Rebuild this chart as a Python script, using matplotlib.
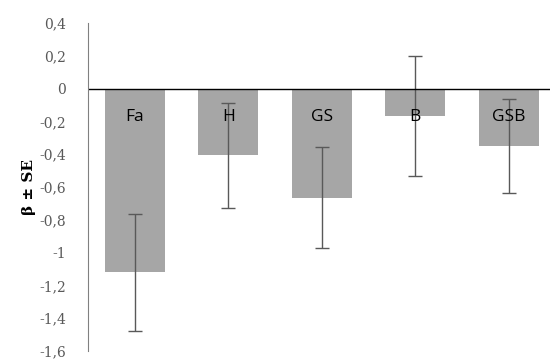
import matplotlib
matplotlib.use("Agg")
import matplotlib.pyplot as plt
import numpy as np

# data
groups = ["Fa", "H", "GS", "B", "GSB"]
beta = [-1.12, -0.405, -0.665, -0.165, -0.35]
se = [0.355, 0.32, 0.31, 0.365, 0.285]
yticks = [0.4, 0.2, 0, -0.2, -0.4, -0.6, -0.8, -1, -1.2, -1.4, -1.6]
ytick_labels = [("%g" % v).replace(".", ",") for v in yticks]

fig = plt.figure(figsize=(5.5, 3.63), dpi=100)
ax = fig.add_axes([88 / 550, 1 - 351 / 363, 1 - 88 / 550, (351 - 23) / 363])

x = np.arange(len(groups))
ax.bar(x, beta, width=0.64, color="#a6a6a6")
ax.errorbar(x, beta, yerr=se, fmt="none", ecolor="#595959", elinewidth=1,
            capsize=5, capthick=1)

# group names inside the bars, just below zero
for xi, name in zip(x, groups):
    ax.text(xi, -0.175, name, ha="center", va="center", fontsize=12.5,
            family="Open Sans", color="black")

ax.axhline(0, color="black", lw=1)
ax.set_xlim(-0.5, 4.44)
ax.set_ylim(-1.6, 0.4)
ax.set_yticks(yticks)
ax.set_yticklabels(ytick_labels, family="DejaVu Serif", fontsize=10, color="#595959")
ax.set_xticks([])
ax.tick_params(axis="y", length=0, pad=16)
for s in ["top", "right", "bottom"]:
    ax.spines[s].set_visible(False)
ax.spines["left"].set_color("#808080")
ax.set_ylabel("β ± SE", family="DejaVu Serif", fontweight="bold", fontsize=11,
              labelpad=2)

fig.savefig("out.png", dpi=100)
